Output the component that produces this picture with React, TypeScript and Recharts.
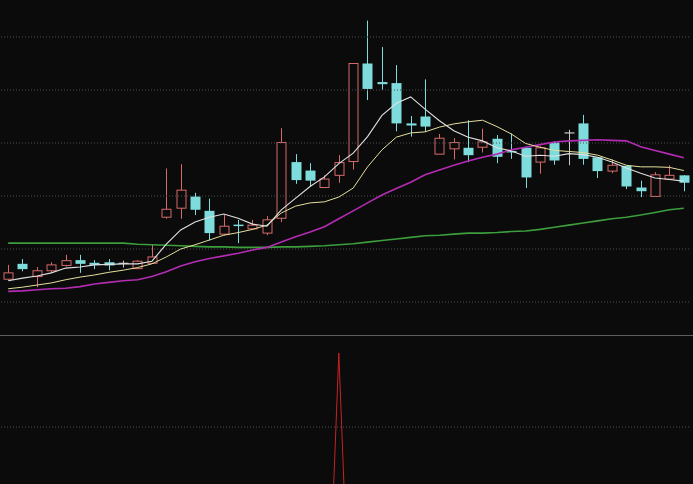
import React from 'react';
import { ComposedChart, LineChart, Bar, Line, XAxis, YAxis, ReferenceLine } from 'recharts';

const categories = [
  'd01','d02','d03','d04','d05','d06','d07','d08','d09','d10','d11','d12',
  'd13','d14','d15','d16','d17','d18','d19','d20','d21','d22','d23','d24',
  'd25','d26','d27','d28','d29','d30','d31','d32','d33','d34','d35','d36',
  'd37','d38','d39','d40','d41','d42','d43','d44','d45','d46','d47','d48',
];

const opens = [
  10.43, 10.72, 10.48, 10.59, 10.69, 10.79, 10.74, 10.75, 10.73, 10.63, 10.73, 11.60,
  11.77, 11.99, 11.72, 11.28, 11.46, 11.38, 11.30, 11.58, 12.64, 12.48, 12.16, 12.39,
  12.65, 14.50, 14.15, 14.13, 13.37, 13.50, 12.79, 12.89, 12.91, 12.92, 13.08, 12.85,
  12.91, 12.64, 13.01, 13.19, 13.37, 12.73, 12.47, 12.57, 12.16, 11.99, 12.32, 12.39,
];
const closes = [
  10.55, 10.62, 10.59, 10.70, 10.78, 10.72, 10.70, 10.69, 10.73, 10.77, 10.85, 11.75,
  12.11, 11.74, 11.30, 11.43, 11.45, 11.45, 11.55, 13.01, 12.30, 12.29, 12.32, 12.63,
  14.50, 14.02, 14.11, 13.37, 13.33, 13.31, 13.09, 13.01, 12.77, 13.02, 12.74, 12.84,
  12.35, 12.91, 12.67, 13.19, 12.70, 12.47, 12.58, 12.18, 12.09, 12.40, 12.39, 12.25,
];
const highs = [
  10.70, 10.81, 10.66, 10.75, 10.89, 10.89, 10.79, 10.81, 10.78, 10.79, 11.08, 12.52,
  12.60, 12.06, 11.95, 11.65, 11.55, 11.55, 11.62, 13.28, 12.79, 12.62, 12.39, 12.77,
  14.50, 15.31, 14.81, 14.47, 13.51, 14.20, 13.17, 13.09, 13.43, 13.27, 13.15, 13.18,
  12.93, 12.94, 13.03, 13.25, 13.53, 12.73, 12.69, 12.57, 12.29, 12.45, 12.58, 12.39,
];
const lows = [
  10.42, 10.58, 10.28, 10.55, 10.67, 10.55, 10.62, 10.60, 10.65, 10.62, 10.72, 11.57,
  11.57, 11.64, 11.16, 11.26, 11.11, 11.36, 11.26, 11.51, 12.23, 12.18, 12.15, 12.25,
  12.50, 13.81, 14.00, 13.22, 13.12, 13.21, 12.79, 12.69, 12.64, 12.82, 12.62, 12.70,
  12.15, 12.42, 12.59, 12.58, 12.59, 12.34, 12.43, 12.13, 11.98, 11.99, 12.30, 12.09,
];

const ma5 = [
  10.40, 10.45, 10.49, 10.55, 10.64, 10.66, 10.70, 10.71, 10.72, 10.72, 10.77, 11.09,
  11.36, 11.51, 11.60, 11.66, 11.58, 11.47, 11.43, 11.74, 11.96, 12.18, 12.36, 12.61,
  12.81, 13.12, 13.52, 13.75, 13.87, 13.64, 13.42, 13.23, 13.11, 13.04, 12.91, 12.85,
  12.75, 12.77, 12.75, 12.80, 12.78, 12.73, 12.64, 12.53, 12.43, 12.34, 12.31, 12.28,
];
const ma10 = [
  10.25, 10.28, 10.32, 10.36, 10.42, 10.47, 10.51, 10.56, 10.60, 10.65, 10.72, 10.85,
  11.00, 11.08, 11.17, 11.26, 11.31, 11.37, 11.45, 11.68, 11.81, 11.87, 11.89, 11.98,
  12.15, 12.55, 12.87, 13.11, 13.19, 13.21, 13.30, 13.36, 13.40, 13.43, 13.31, 13.17,
  12.99, 12.92, 12.86, 12.84, 12.82, 12.77, 12.68, 12.58, 12.55, 12.55, 12.54, 12.48,
];
const ma30 = [
  10.20, 10.21, 10.23, 10.25, 10.26, 10.29, 10.34, 10.37, 10.40, 10.42, 10.48, 10.57,
  10.68, 10.76, 10.82, 10.87, 10.92, 10.98, 11.03, 11.13, 11.23, 11.32, 11.42, 11.57,
  11.72, 11.87, 12.02, 12.14, 12.26, 12.40, 12.49, 12.58, 12.66, 12.73, 12.79, 12.87,
  12.92, 12.97, 13.02, 13.04, 13.05, 13.06, 13.05, 13.04, 12.93, 12.86, 12.79, 12.72,
];
const ma60 = [
  11.11, 11.11, 11.11, 11.11, 11.11, 11.11, 11.11, 11.11, 11.11, 11.09, 11.08, 11.07,
  11.06, 11.05, 11.04, 11.04, 11.03, 11.03, 11.03, 11.04, 11.04, 11.05, 11.06, 11.08,
  11.10, 11.13, 11.16, 11.19, 11.22, 11.25, 11.26, 11.28, 11.30, 11.30, 11.31, 11.33,
  11.34, 11.37, 11.41, 11.45, 11.49, 11.53, 11.57, 11.60, 11.64, 11.69, 11.74, 11.77,
];

const indicator = [
  0, 0, 0, 0, 0, 0, 0, 0, 0, 0, 0, 0,
  0, 0, 0, 0, 0, 0, 0, 0, 0, 0, 0, 100,
  0, 0, 0, 0, 0, 0, 0, 0, 0, 0, 0, 0,
  0, 0, 0, 0, 0, 0, 0, 0, 0, 0, 0, 0,
];

const priceGrid = [10, 11, 12, 13, 14, 15];
const indicatorGrid = [80];
const priceDomain = [9.3774, 15.6981];
const indicatorDomain = [0, 104.6];

const BG = '#0b0b0b';
const UP = '#d66a6a';
const DOWN = '#7edcdc';
const FLAT = '#c8c8c8';

const data = categories.map((name, i) => ({
  name,
  open: opens[i],
  close: closes[i],
  high: highs[i],
  low: lows[i],
  range: [lows[i], highs[i]],
  ma5: ma5[i],
  ma10: ma10[i],
  ma30: ma30[i],
  ma60: ma60[i],
  ind: indicator[i],
}));

const Candle = (props: any) => {
  const { x, y, width, height, payload } = props;
  if (!payload) return null;
  const { open, close, high, low } = payload;
  const top = Math.min(y, y + height);
  const h = Math.abs(height);
  const span = high - low;
  const ppu = span > 0 ? h / span : 0;
  const toY = (v: number) => top + (high - v) * ppu;
  const cx = Math.round(x + width / 2) + 0.5;
  const bodyTop = toY(Math.max(open, close));
  const bodyBot = toY(Math.min(open, close));
  const up = close > open;
  const flat = close === open;
  const color = flat ? FLAT : up ? UP : DOWN;
  const bw = 9;
  const bx = cx - bw / 2;
  if (up) {
    return (
      <g>
        <line x1={cx} x2={cx} y1={toY(high)} y2={bodyTop} stroke={color} strokeWidth={1} />
        <line x1={cx} x2={cx} y1={bodyBot} y2={toY(low)} stroke={color} strokeWidth={1} />
        <rect x={bx} y={bodyTop} width={bw} height={Math.max(bodyBot - bodyTop, 1)} fill="none" stroke={color} strokeWidth={1} />
      </g>
    );
  }
  return (
    <g>
      <line x1={cx} x2={cx} y1={toY(high)} y2={toY(low)} stroke={color} strokeWidth={1} />
      {flat ? (
        <line x1={bx - 0.5} x2={bx + bw + 0.5} y1={bodyTop} y2={bodyTop} stroke={color} strokeWidth={1.2} />
      ) : (
        <rect x={bx - 0.5} y={bodyTop} width={bw + 1} height={Math.max(bodyBot - bodyTop, 1.5)} fill={color} />
      )}
    </g>
  );
};

export default function App() {
  return (
    <div
      style={{
        position: 'fixed',
        left: 0,
        top: 0,
        width: 693,
        height: 484,
        overflow: 'hidden',
        background: BG,
      }}
    >
      <div style={{ position: 'absolute', left: 0, top: 0 }}>
        <ComposedChart width={693} height={335} data={data} margin={{ top: 0, right: 2, left: 1, bottom: 0 }}>
          <XAxis dataKey="name" hide />
          <YAxis hide domain={priceDomain} type="number" allowDataOverflow />
          {priceGrid.map((t) => (
            <ReferenceLine key={t} y={t} stroke="#4e4e4e" strokeDasharray="1 2" strokeWidth={1} />
          ))}
          <Bar dataKey="range" barSize={10} shape={Candle} isAnimationActive={false} />
          <Line dataKey="ma60" stroke="#3c9e3c" strokeWidth={1.6} dot={false} activeDot={false} isAnimationActive={false} />
          <Line dataKey="ma30" stroke="#b42cb4" strokeWidth={1.6} dot={false} activeDot={false} isAnimationActive={false} />
          <Line dataKey="ma10" stroke="#e4df9c" strokeWidth={1} dot={false} activeDot={false} isAnimationActive={false} />
          <Line dataKey="ma5" stroke="#e0e0e0" strokeWidth={1.1} dot={false} activeDot={false} isAnimationActive={false} />
        </ComposedChart>
      </div>
      <div style={{ position: 'absolute', left: 0, top: 335, borderTop: '1px solid #5e5e5e' }}>
        <LineChart width={693} height={400} data={data} margin={{ top: 0, right: 2, left: 1, bottom: 13 }}>
          <XAxis dataKey="name" hide padding={{ left: 7.1875, right: 7.1875 }} />
          <YAxis hide domain={indicatorDomain} type="number" allowDataOverflow />
          {indicatorGrid.map((t) => (
            <ReferenceLine key={t} y={t} stroke="#4e4e4e" strokeDasharray="1 2" strokeWidth={1} />
          ))}
          <Line dataKey="ind" stroke="#c42424" strokeWidth={1} dot={false} activeDot={false} isAnimationActive={false} />
        </LineChart>
      </div>
    </div>
  );
}
